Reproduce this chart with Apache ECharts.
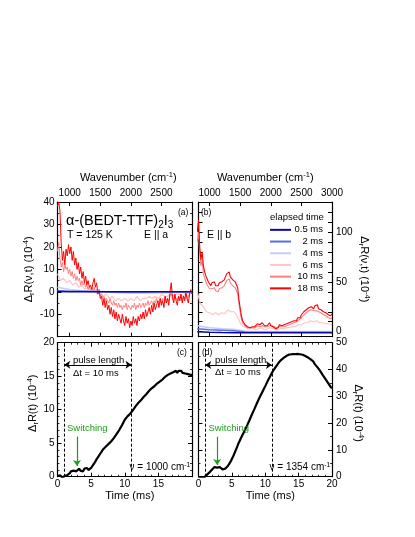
<!DOCTYPE html>
<html>
<head>
<meta charset="utf-8">
<script src="https://cdn.jsdelivr.net/npm/echarts@6/dist/echarts.min.js"></script>
<style>
html,body{margin:0;padding:0;background:#fff;}
#main{width:415px;height:537px;}
</style>
</head>
<body>
<div id="main"></div>
<script>
// wavenumber grids (cm-1)
var WAVE_FINE=[800,820,840,860,880,900,920,940,960,980,
1000,1020,1040,1060,1080,1100,1120,1140,1160,1180,
1200,1220,1240,1260,1280,1300,1320,1340,1360,1380,
1400,1420,1440,1460,1480,1500,1520,1540,1560,1580,
1600,1620,1640,1660,1680,1700,1720,1740,1760,1780,
1800,1820,1840,1860,1880,1900,1920,1940,1960,1980,
2000,2020,2040,2060,2080,2100,2120,2140,2160,2180,
2200,2220,2240,2260,2280,2300,2320,2340,2360,2380,
2400,2420,2440,2460,2480,2500,2520,2540,2560,2580,
2600,2620,2640,2660,2680,2700,2720,2740,2760,2780,
2800,2820,2840,2860,2880,2900,2920,2940,2960,2980,
3000];
var WAVE_MID=[800,850,900,950,1000,1050,1100,1150,1200,1250,
1300,1350,1400,1450,1500,1550,1600,1650,1700,1750,
1800,1850,1900,1950,2000,2050,2100,2150,2200,2250,
2300,2350,2400,2450,2500,2550,2600,2650,2700,2750,
2800,2850,2900,2950,3000];
var WAVE_COARSE=[800,1000,1200,1400,1600,1800,2000,2200,2400,2600,2800,3000];

// panel (a) E || a, spectra (10^-4)
var A_18MS=[38,40,36,22,14,18,12,19,16,21,
17,20,14,18,12,15,10,13,8,11,
6,9,4,7,3,5,2,3,1,4,
6,2,4,-1,1,-3,-2,-6,-3,-7,
-4,-8,-6,-10,-7,-11,-8,-12,-9,-13,
-10,-12,-14,-10,-13,-15,-11,-14,-12,-16,
-13,-15,-11,-14,-12,-15,-11,-13,-10,-12,
-9,-12,-8,-11,-9,-7,-10,-6,-9,-5,
-8,-6,-4,-7,-3,-6,-4,-7,-2,-5,
-3,-6,0,4,-2,-5,-1,-4,-6,-2,
-4,-1,-5,-2,-4,0,-3,-5,-1,1,
-1];
var A_10MS=[18,22,15,11,13,9,12,10,11,8,
10,7,9,6,8,5,7,5,6,3,
5,3,4,2,3,1,2,1,2,0,
2,0,1,-1,0,-2,-1,-3,-2,-4,
-3,-4,-5,-3,-5,-6,-4,-6,-5,-7,
-5,-7,-6,-8,-6,-7,-5,-8,-6,-7,
-8,-6,-7,-5,-8,-6,-7,-5,-7,-6,
-5,-7,-5,-6,-4,-6,-5,-4,-6,-4,
-5,-3,-5,-4,-3,-5,-3,-4,-2,-4,
-3,-4,-2,0,-3,-4,-2,-3,-4,-2,
-3,-2,-4,-2,-3,-1,-3,-2,-1,0,
-1];
var A_6MS=[8,5,6,4,5,3,4,2,3,1,
2,0,1,-1,0,-2,-1,-3,-2,-4,
-3,-4,-3,-4,-3,-4,-2,-4,-3,-3,
-2,-3,-2,-3,-1,-2,-2,-1,-2,-1,
-1,-2,0,-1,-1];
var A_4MS=[2,1,0.5,0.3,0,-0.4,-0.6,-0.6,-0.5,-0.4,-0.3,-0.2];
var A_2MS=[0.5,0.3,0.2,0.1,0,-0.1,-0.1,-0.1,0,0,0,0];
var A_05MS=[0.1,0,0,0,0,0,0,0,0,0,0,0];

// panel (b) E || b, spectra (10^-4)
var B_18MS=[100,112,85,72,80,66,60,56,53,50,
49,46,49,47,50,46,48,46,49,47,
50,49,52,55,58,56,60,55,57,52,
54,50,52,44,32,24,16,11,9,7,
8,5,6,4,6,5,7,5,6,8,
6,7,5,9,7,6,8,6,7,9,
6,8,5,6,3,5,4,7,5,6,
4,7,6,8,7,9,8,10,9,11,
12,11,14,15,14,17,18,20,19,22,
21,24,22,25,27,23,26,24,27,23,
25,22,24,20,22,19,21,17,19,16,
18];
var B_10MS=[90,100,78,66,72,58,54,50,47,45,
43,41,43,41,44,41,42,40,43,42,
44,43,46,48,51,50,53,49,51,46,
48,44,45,38,28,20,13,9,7,6,
6,4,5,4,5,4,5,4,5,6,
5,5,4,6,5,5,6,5,5,6,
5,6,4,5,3,4,4,5,4,5,
4,5,5,6,6,7,7,8,8,9,
10,10,12,12,13,14,15,17,17,19,
19,21,20,22,23,21,22,21,22,20,
21,19,20,17,18,16,17,14,15,13,
14];
var B_6MS=[40,28,25,20,19,17,19,17,19,18,
22,20,20,16,9,5,4,3,4,2,
3,4,2,3,4,3,2,3,3,4,
4,5,5,7,7,9,9,11,10,11,
9,9,8,8,7];
var B_4MS=[6,4,3,2.5,0.5,0.3,0.3,0.3,0.3,0.3,0.3,0.3];
var B_2MS=[3,2,1.5,1,-0.5,-0.5,-0.5,-0.5,-0.5,-0.5,-0.5,-0.5];
var B_05MS=[0,-0.5,-0.8,-1,-1,-1,-1,-1,-1,-1,-1,-1];

// time traces (ms, 10^-4)
var TIME=[0,0.2,0.4,0.6,0.8,1,1.2,1.4,1.6,1.8,
2,2.2,2.4,2.6,2.8,3,3.2,3.4,3.6,3.8,
4,4.2,4.4,4.6,4.8,5,5.2,5.4,5.6,5.8,
6,6.2,6.4,6.6,6.8,7,7.2,7.4,7.6,7.8,
8,8.2,8.4,8.6,8.8,9,9.2,9.4,9.6,9.8,
10,10.2,10.4,10.6,10.8,11,11.2,11.4,11.6,11.8,
12,12.2,12.4,12.6,12.8,13,13.2,13.4,13.6,13.8,
14,14.2,14.4,14.6,14.8,15,15.2,15.4,15.6,15.8,
16,16.2,16.4,16.6,16.8,17,17.2,17.4,17.6,17.8,
18,18.2,18.4,18.6,18.8,19,19.2,19.4,19.6,19.8,
20];
var C_TRACE=[0.1,-0.1,0.2,0.0,-0.2,0.1,-0.1,0.2,0.4,0.5,
0.8,0.6,0.9,1.1,0.8,1.0,1.2,0.9,1.1,0.8,
1.2,1.0,1.3,1.0,1.2,1.3,1.6,1.9,2.2,2.6,
2.9,3.1,3.5,3.7,4.1,4.0,4.5,4.4,4.9,4.9,
5.3,5.4,5.8,5.9,6.4,6.5,7.0,7.1,7.7,7.9,
8.5,8.6,9.0,9.0,9.4,9.4,9.9,10.0,10.5,10.5,
11.0,11.0,11.4,11.5,11.9,11.9,12.3,12.4,12.8,12.8,
13.2,13.1,13.5,13.5,13.9,13.8,14.2,14.1,14.5,14.5,
14.9,14.8,15.2,15.1,15.4,15.3,15.6,15.5,15.8,15.5,
15.8,15.6,15.8,15.5,15.7,15.4,15.6,15.3,15.5,15.2,
15.2];
var D_TRACE=[-0.5,0.2,-0.3,0.1,-0.4,0.0,0.6,1.0,1.5,2.0,
2.6,3.0,3.6,4.2,3.4,2.9,3.6,3.1,2.7,3.3,
3.0,3.6,4.0,4.8,5.6,6.6,7.6,8.8,10.0,11.2,
12.5,13.2,14.6,15.1,16.6,17.2,18.7,19.4,20.9,21.6,
23.2,23.8,25.4,26.1,27.7,28.4,29.8,30.5,31.8,32.4,
33.8,34.4,35.9,36.4,37.8,38.3,39.6,40.0,41.1,41.5,
42.5,42.7,43.6,43.6,44.4,44.3,45.1,44.9,45.6,45.1,
45.7,45.5,45.7,45.6,45.8,45.5,45.7,45.4,45.5,44.9,
45.0,44.4,44.5,43.8,43.8,43.1,43.0,42.1,42.0,40.9,
40.6,39.6,39.2,38.0,37.7,36.5,36.2,35.0,34.7,33.5,
33.0];

// annotation anchors
var PULSE_T=[1,11];
var PULSE_Y_C=16.7, PULSE_Y_D=41.7;
var SWITCH_C=[2.9,6,1.6], SWITCH_D=[2.8,14.9,4.4];

var COLORS={'0.5 ms':'#0a0aa0','2 ms':'#5a6be6','4 ms':'#c8cdf5','6 ms':'#ffc4c4','10 ms':'#ff7f7f','18 ms':'#ff0000'};
var GREEN='#1f9a1f';
var FONT='Liberation Sans';

function PAIRS(xs,ys){
    var out=[];
    for(var i=0;i<xs.length;i++){ out.push([xs[i],ys[i]]); }
    return out;
}

var RICH_NAME={
    m:{fontSize:11,fontFamily:FONT,color:'#000',lineHeight:14},
    sub:{fontSize:7.5,fontFamily:FONT,color:'#000',lineHeight:8,verticalAlign:'bottom'},
    sup:{fontSize:7.5,fontFamily:FONT,color:'#000',lineHeight:8,verticalAlign:'top'}
};
var NAME_DR_NU='{m|Δ}{sub|r}{m|R(ν,t) (10}{sup|-4}{m|)}';
var NAME_DR_T='{m|Δ}{sub|r}{m|R(t) (10}{sup|-4}{m|)}';
var NAME_WAVE='{m|Wavenumber (cm}{sup|-1}{m|)}';

var LINE={show:true,onZero:false,lineStyle:{color:'#000',width:1.2}};
function TICK(vals){
    var t={show:true,inside:true,length:4,lineStyle:{color:'#000',width:1}};
    if(vals){ t.customValues=vals; }
    return t;
}
function LABEL(vals,extra){
    var l={show:true,color:'#000',fontFamily:FONT,fontSize:10,margin:3,
        formatter:function(v){ return String(v); }};
    if(vals){ l.customValues=vals; }
    for(var k in extra){ l[k]=extra[k]; }
    return l;
}
function MINOR(n){
    return {show:true,splitNumber:n,length:2,lineStyle:{color:'#000',width:0.8}};
}
function MIRROR(base){
    var a={};
    for(var k in base){ a[k]=base[k]; }
    a.axisLabel={show:false};
    a.name='';
    return a;
}

var WAVE_TICKS_A=[1000,1500,2000,2500];
var WAVE_TICKS_B=[1000,1500,2000,2500,3000];
var B_Y_LABELS=[0,50,100];
var B_Y_TICKS=[0,10,20,30,40,50,60,70,80,90,100,110,120];

// x axes
var XA={type:'value',gridIndex:0,position:'top',min:800,max:3000,axisLine:LINE,axisTick:TICK(WAVE_TICKS_A),
    axisLabel:LABEL(WAVE_TICKS_A,{margin:4}),splitLine:{show:false},
    name:NAME_WAVE,nameLocation:'middle',nameGap:17,nameTextStyle:{rich:RICH_NAME,padding:[0,0,0,7]}};
var XB={type:'value',gridIndex:1,position:'top',min:820,max:3000,axisLine:LINE,axisTick:TICK(WAVE_TICKS_B),
    axisLabel:LABEL(WAVE_TICKS_B,{margin:4}),splitLine:{show:false},
    name:NAME_WAVE,nameLocation:'middle',nameGap:17,nameTextStyle:{rich:RICH_NAME}};
var XC={type:'value',gridIndex:2,position:'bottom',min:0,max:20,interval:5,axisLine:LINE,axisTick:TICK(),
    minorTick:MINOR(5),axisLabel:LABEL(null,{showMaxLabel:false,margin:3}),splitLine:{show:false},minorSplitLine:{show:false},
    name:'Time (ms)',nameLocation:'middle',nameGap:14,nameTextStyle:{fontFamily:FONT,fontSize:11,color:'#000',padding:[0,0,0,10]}};
var XD={type:'value',gridIndex:3,position:'bottom',min:0,max:20,interval:5,axisLine:LINE,axisTick:TICK(),
    minorTick:MINOR(5),axisLabel:LABEL(null,{margin:3}),splitLine:{show:false},minorSplitLine:{show:false},
    name:'Time (ms)',nameLocation:'middle',nameGap:14,nameTextStyle:{fontFamily:FONT,fontSize:11,color:'#000',padding:[0,0,0,10]}};

var XA2=MIRROR(XA); XA2.position='bottom';
var XB2=MIRROR(XB); XB2.position='bottom';
var XC2=MIRROR(XC); XC2.position='top';
var XD2=MIRROR(XD); XD2.position='top';

// y axes
var YA={type:'value',gridIndex:0,position:'left',min:-20,max:40,interval:10,axisLine:LINE,axisTick:TICK(),
    minorTick:MINOR(2),axisLabel:LABEL(null,{showMinLabel:false}),splitLine:{show:false},minorSplitLine:{show:false},
    name:NAME_DR_NU,nameLocation:'middle',nameGap:15,nameTextStyle:{rich:RICH_NAME}};
var YB={type:'value',gridIndex:1,position:'right',min:-5,max:130,axisLine:LINE,axisTick:TICK(B_Y_TICKS),
    axisLabel:LABEL(B_Y_LABELS,{margin:4}),splitLine:{show:false},
    name:NAME_DR_NU,nameLocation:'middle',nameGap:19,nameRotate:-90,nameTextStyle:{rich:RICH_NAME}};
var YC={type:'value',gridIndex:2,position:'left',min:0,max:20,interval:5,axisLine:LINE,axisTick:TICK(),
    minorTick:MINOR(5),axisLabel:LABEL(),splitLine:{show:false},minorSplitLine:{show:false},
    name:NAME_DR_T,nameLocation:'middle',nameGap:10,nameTextStyle:{rich:RICH_NAME,padding:[0,0,0,13]}};
var YD={type:'value',gridIndex:3,position:'right',min:0,max:50,interval:10,axisLine:LINE,axisTick:TICK(),
    minorTick:MINOR(2),axisLabel:LABEL(null,{margin:4}),splitLine:{show:false},minorSplitLine:{show:false},
    name:NAME_DR_T,nameLocation:'middle',nameGap:19,nameRotate:-90,nameTextStyle:{rich:RICH_NAME,padding:[0,0,0,7]}};

var YA2=MIRROR(YA); YA2.position='right';
var YB2=MIRROR(YB); YB2.position='left';
var YC2=MIRROR(YC); YC2.position='right';
var YD2=MIRROR(YD); YD2.position='left';

function SPEC(name,xs,ys,xi,yi,w){
    return {name:name,type:'line',xAxisIndex:xi,yAxisIndex:yi,data:PAIRS(xs,ys),
        showSymbol:false,symbol:'none',clip:true,animation:false,silent:true,
        itemStyle:{color:COLORS[name]},lineStyle:{color:COLORS[name],width:w}};
}

function MARKS(pulseY,sw){
    var dash={type:[3,2],color:'#000',width:1};
    return {silent:true,animation:false,symbol:'none',label:{show:false},
        data:[
            {xAxis:PULSE_T[0],lineStyle:dash},
            {xAxis:PULSE_T[1],lineStyle:dash},
            [{coord:[PULSE_T[0],pulseY],symbol:'arrow',symbolSize:6,lineStyle:{type:'solid',color:'#000',width:1}},
             {coord:[PULSE_T[1],pulseY],symbol:'arrow',symbolSize:6}],
            [{coord:[sw[0],sw[1]],symbol:'none',lineStyle:{type:'solid',color:GREEN,width:1.2}},
             {coord:[sw[0],sw[2]],symbol:'arrow',symbolSize:6}]
        ]};
}

function TRACE(ys,xi,yi,pulseY,sw){
    return {type:'line',xAxisIndex:xi,yAxisIndex:yi,data:PAIRS(TIME,ys),showSymbol:false,symbol:'none',
        clip:true,animation:false,silent:true,lineStyle:{color:'#000',width:2.2},itemStyle:{color:'#000'},
        markLine:MARKS(pulseY,sw)};
}

function TXT(x,y,text,size,color,rich){
    var st={text:text,fill:color||'#000',font:size+'px "'+FONT+'"',align:'left',verticalAlign:'middle'};
    if(rich){ st.rich=rich; }
    return {type:'text',x:x,y:y,silent:true,z:100,style:st};
}
var RICH_TITLE={
    t:{fontSize:14.5,fontFamily:FONT,fill:'#000',lineHeight:18},
    s:{fontSize:10,fontFamily:FONT,fill:'#000',lineHeight:11,verticalAlign:'bottom'}
};
var RICH_NU={
    m:{fontSize:10,fontFamily:FONT,fill:'#000',lineHeight:12},
    p:{fontSize:7,fontFamily:FONT,fill:'#000',lineHeight:8,verticalAlign:'top'}
};

var CHART=echarts.init(document.getElementById('main'));
CHART.setOption({
    animation:false,
    backgroundColor:'#fff',
    textStyle:{fontFamily:FONT},
    grid:[
        {left:57.5,top:202,width:134.5,height:134.7,outerBoundsMode:'none'},
        {left:198.5,top:202,width:133.5,height:134.7,outerBoundsMode:'none'},
        {left:57.5,top:342.7,width:134.5,height:134,outerBoundsMode:'none'},
        {left:198.5,top:342.7,width:133.5,height:134,outerBoundsMode:'none'}
    ],
    xAxis:[XA,XA2,XB,XB2,XC,XC2,XD,XD2],
    yAxis:[YA,YA2,YB,YB2,YC,YC2,YD,YD2],
    legend:{
        data:['0.5 ms','2 ms','4 ms','6 ms','10 ms','18 ms'],
        orient:'vertical',left:270,top:224,padding:0,
        icon:'rect',itemWidth:21,itemHeight:2,itemGap:0,selectedMode:false,
        formatter:function(n){ return '{r|'+n+'}'; },
        textStyle:{fontFamily:FONT,fontSize:9.5,color:'#000',lineHeight:11.7,
            rich:{r:{width:27,align:'right',fontSize:9.5,fontFamily:FONT,color:'#000',lineHeight:11.7}}}
    },
    series:[
        SPEC('6 ms',WAVE_MID,A_6MS,0,0,1.2),
        SPEC('10 ms',WAVE_FINE,A_10MS,0,0,1),
        SPEC('18 ms',WAVE_FINE,A_18MS,0,0,1),
        SPEC('4 ms',WAVE_COARSE,A_4MS,0,0,1.5),
        SPEC('2 ms',WAVE_COARSE,A_2MS,0,0,1.5),
        SPEC('0.5 ms',WAVE_COARSE,A_05MS,0,0,1.5),
        SPEC('6 ms',WAVE_MID,B_6MS,2,2,1.2),
        SPEC('10 ms',WAVE_FINE,B_10MS,2,2,1.1),
        SPEC('18 ms',WAVE_FINE,B_18MS,2,2,1.1),
        SPEC('4 ms',WAVE_COARSE,B_4MS,2,2,1.5),
        SPEC('2 ms',WAVE_COARSE,B_2MS,2,2,1.5),
        SPEC('0.5 ms',WAVE_COARSE,B_05MS,2,2,1.5),
        TRACE(C_TRACE,4,4,PULSE_Y_C,SWITCH_C),
        TRACE(D_TRACE,6,6,PULSE_Y_D,SWITCH_D)
    ],
    graphic:[
        TXT(66,221,'{t|α-(BEDT-TTF)}{s|2}{t|I}{s|3}',14.5,'#000',RICH_TITLE),
        TXT(67,235,'T = 125 K',10.5),
        TXT(144,235,'E || a',10.5),
        TXT(178,213,'(a)',8.5),
        TXT(201,213,'(b)',8.5),
        TXT(207,235,'E || b',10.5),
        TXT(270,217,'elapsed time',9.5),
        TXT(177,352.7,'(c)',8.5),
        TXT(202,352.7,'(d)',8.5),
        TXT(73,360.5,'pulse length',9.5),
        TXT(73,373,'Δt = 10 ms',9.5),
        TXT(67,428,'Switching',9.5,GREEN),
        TXT(129.5,467.5,'{m|ν = 1000 cm}{p|-1}',10,'#000',RICH_NU),
        TXT(215,360,'pulse length',9.5),
        TXT(215,372.7,'Δt = 10 ms',9.5),
        TXT(208.5,428,'Switching',9.5,GREEN),
        TXT(269.5,467.5,'{m|ν = 1354 cm}{p|-1}',10,'#000',RICH_NU)
    ]
});
</script>
</body>
</html>
